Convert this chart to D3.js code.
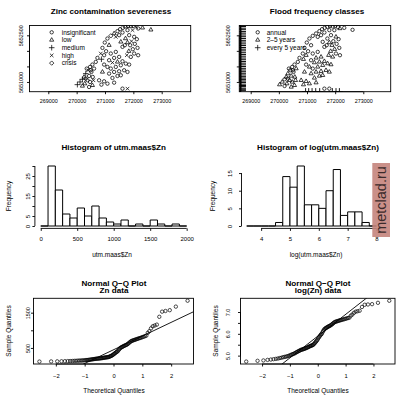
<!DOCTYPE html>
<html>
<head>
<meta charset="utf-8">
<script src="https://cdn.jsdelivr.net/npm/d3@7"></script>
<style>
  body { margin: 0; background: #fff; }
  svg text { font-family: "Liberation Sans", Arial, Helvetica, sans-serif; fill: #000; }
</style>
</head>
<body>
<svg id="chart" width="401" height="399"></svg>
<script>
// sample sites: [easting, northing, zinc class, flood class]
const sites = [
  [271322, 5652559, 1, 0], [271440, 5652634, 0, 0], [271534, 5652698, 0, 0], [271628, 5652741, 4, 0],
  [271723, 5652774, 1, 0], [271817, 5652806, 0, 0], [271911, 5652785, 1, 0], [272005, 5652806, 0, 0],
  [272099, 5652763, 3, 0], [272170, 5652720, 0, 1], [272323, 5652741, 1, 0], [272618, 5652677, 1, 0],
  [271793, 5652666, 0, 0], [271970, 5652666, 3, 0], [271617, 5652591, 0, 0], [271204, 5652483, 4, 0],
  [271381, 5652451, 3, 0], [271499, 5652505, 0, 0],
  [271852, 5652505, 0, 0], [272029, 5652451, 0, 1], [272123, 5652376, 0, 0], [271935, 5652311, 3, 0],
  [271793, 5652268, 1, 1], [271699, 5652182, 0, 0], [271887, 5652182, 0, 1], [272052, 5652225, 0, 0],
  [272147, 5652096, 0, 0], [271982, 5652053, 0, 1], [271840, 5651989, 1, 1], [272029, 5651914, 0, 0],
  [272170, 5651860, 0, 0], [271911, 5651806, 0, 1], [271770, 5651860, 3, 1], [271617, 5652129, 0, 0],
  [271558, 5652290, 1, 0], [271723, 5652397, 1, 0],
  [271086, 5652397, 0, 0], [270992, 5652268, 0, 0], [271145, 5652182, 1, 0], [270910, 5652096, 0, 0],
  [271039, 5651989, 0, 0], [270851, 5651914, 3, 0], [270969, 5651860, 0, 1], [270733, 5651774, 0, 0],
  [270874, 5651731, 2, 1], [270674, 5651645, 0, 0], [270556, 5651559, 0, 0], [270474, 5651484, 0, 0],
  [270615, 5651430, 0, 1], [270403, 5651376, 3, 0], [270521, 5651322, 0, 0], [270321, 5651269, 2, 1],
  [270439, 5651193, 0, 1], [270262, 5651161, 1, 1], [270568, 5651161, 0, 1], [270203, 5651086, 2, 0],
  [270380, 5651054, 0, 1], [270474, 5651000, 0, 1], [270120, 5651000, 2, 1], [270285, 5650946, 1, 1],
  [270026, 5650914, 2, 1], [270556, 5650892, 1, 1], [270203, 5650871, 1, 0], [270439, 5650839, 0, 1],
  [270321, 5651107, 0, 0], [270592, 5651054, 3, 1], [270497, 5651376, 0, 0], [270356, 5651430, 0, 0],
  [271204, 5651914, 0, 0], [271381, 5651967, 0, 0], [271322, 5651774, 0, 1], [271499, 5651806, 0, 1],
  [271145, 5651699, 0, 0], [271263, 5651623, 3, 1], [271440, 5651645, 1, 1], [271617, 5651666, 0, 1],
  [271734, 5651591, 0, 1], [271852, 5651559, 0, 1], [271558, 5651537, 0, 1], [271381, 5651484, 0, 1],
  [271204, 5651430, 0, 0], [270969, 5651559, 0, 0], [271086, 5651484, 0, 1], [271322, 5651322, 0, 1],
  [271499, 5651344, 0, 1], [271675, 5651376, 0, 1], [271793, 5651322, 0, 1], [270910, 5651322, 1, 1],
  [271145, 5651269, 0, 1], [271440, 5651193, 0, 1], [271558, 5651215, 0, 1], [271263, 5651129, 0, 1],
  [270969, 5651021, 0, 1], [270792, 5651054, 0, 1], [271086, 5650946, 0, 1], [270874, 5650914, 0, 1],
  [271322, 5650978, 0, 1], [271617, 5650785, 0, 0], [271793, 5650785, 3, 0]
];

// "every 5 years" sites that sit on the left and bottom edge of the flood map
const edgeLeftY = [
  5650720, 5650765, 5650800, 5650850, 5650885, 5650930, 5650985, 5651030, 5651075, 5651125,
  5651170, 5651225, 5651280, 5651330, 5651385, 5651440, 5651495, 5651550, 5651605, 5651660,
  5651715, 5651770, 5651830, 5651885, 5651940, 5652000, 5652055, 5652110, 5652170, 5652225,
  5652285, 5652340, 5652400, 5652455, 5652510, 5652570, 5652620, 5652680, 5652730, 5652785
];
const edgeBottomX = [270950, 271060, 271180, 271310, 271450, 271900, 272030, 272150];

const zincClasses = ['insignificant', 'low', 'medium', 'high', 'crisis'];
const floodClasses = ['annual', '2\u20135 years', 'every 5 years'];

// zinc concentrations, sorted
const zinc = [
  113, 117, 119, 122, 124, 126, 128, 130, 133, 135, 138, 140, 142, 144, 147,
  150, 154, 157, 160, 163, 167, 172, 176, 180, 184, 188, 192, 195, 197, 199,
  202, 205, 208, 211, 214, 218, 222, 226, 230, 233, 236, 239, 242,
  252, 260, 271, 282, 293, 306, 326, 342, 357, 375, 392, 401, 430, 458, 482,
  505, 514, 528, 541, 552, 563, 572, 584, 595, 612, 630, 652, 672, 691,
  703, 712, 722, 731, 742, 751, 762, 772, 781, 793, 806, 818, 832, 847,
  928, 975, 1055, 1115, 1136, 1161, 1383, 1529, 1548, 1571, 1672, 1839
];

const znBreaks = d3.range(0, 2001, 100);
const logBreaks = d3.range(3.5, 8.001, 0.25);

const coordXTicks = [269000, 270000, 271000, 272000, 273000];
const coordYTicks = [5651000, 5651500, 5652000, 5652500];
const coordYLabels = ['5651000', '', '', '5652500'];
const znXTicks = [0, 500, 1000, 1500, 2000];
const znYTicks = [0, 5, 10, 15, 20, 25, 30];
const znYLabels = ['0', '5', '', '15', '', '25', ''];
const logXTicks = [4, 5, 6, 7, 8];
const logYTicks = [0, 5, 10, 15];
const qqXTicks = [-2, -1, 0, 1, 2];
const qqXLabels = ['\u22122', '\u22121', '0', '1', '2'];
const znQTicks = [500, 1000, 1500];
const znQLabels = ['500', '', '1500'];
const logQTicks = [5, 5.5, 6, 6.5, 7];
const logQLabels = ['5.0', '', '6.0', '', '7.0'];

const svg = d3.select('#chart');
const defs = svg.append('defs');

function clip(id, x0, y0, x1, y1) {
  defs.append('clipPath').attr('id', id).append('rect')
    .attr('x', x0).attr('y', y0).attr('width', x1 - x0).attr('height', y1 - y0);
  return `url(#${id})`;
}

function frame(x0, y0, x1, y1) {
  svg.append('rect').attr('x', x0).attr('y', y0).attr('width', x1 - x0).attr('height', y1 - y0)
    .attr('fill', 'none').attr('stroke', '#000').attr('stroke-width', 0.9);
}

function tidy(g, fs) {
  g.attr('font-family', null).attr('font-size', null);
  g.select('.domain').remove();
  g.selectAll('.tick line').attr('stroke', '#000').attr('stroke-width', 0.9);
  g.selectAll('.tick text').attr('font-size', fs).attr('fill', '#000');
}

function xAxis(scale, y, ticks, labels, fs, off) {
  const g = svg.append('g').attr('transform', `translate(0,${y})`)
    .call(d3.axisBottom(scale).tickValues(ticks).tickSize(2.5).tickFormat((d, i) => labels[i]));
  tidy(g, fs);
  g.append('line').attr('x1', scale(ticks[0])).attr('x2', scale(ticks[ticks.length - 1]))
    .attr('stroke', '#000').attr('stroke-width', 0.9);
  g.selectAll('.tick text').attr('y', off).attr('dy', '0.36em');
}

function yAxis(scale, x, ticks, labels, fs, off) {
  const g = svg.append('g').attr('transform', `translate(${x},0)`)
    .call(d3.axisLeft(scale).tickValues(ticks).tickSize(2.5).tickFormat((d, i) => labels[i]));
  tidy(g, fs);
  g.append('line').attr('y1', scale(ticks[0])).attr('y2', scale(ticks[ticks.length - 1]))
    .attr('stroke', '#000').attr('stroke-width', 0.9);
  g.selectAll('.tick text').attr('x', null).attr('dy', '0.36em').attr('text-anchor', 'middle')
    .attr('transform', `translate(${-off},0) rotate(-90)`);
}

function title(lines, cx, y) {
  lines.forEach((t, i) => {
    svg.append('text').attr('x', cx).attr('y', y + i * 7.6).attr('text-anchor', 'middle')
      .attr('font-weight', 'bold').attr('font-size', 8.1).text(t);
  });
}

function xLabel(t, cx, y) {
  svg.append('text').attr('x', cx).attr('y', y).attr('dy', '0.36em').attr('text-anchor', 'middle')
    .attr('font-size', 6.5).text(t);
}

function yLabel(t, x, cy) {
  svg.append('text').attr('transform', `translate(${x},${cy}) rotate(-90)`).attr('dy', '0.36em')
    .attr('text-anchor', 'middle').attr('font-size', 6.5).text(t);
}

// R plotting characters 1, 2, 3, 4, 5
const pch = [d3.symbolCircle, d3.symbolTriangle2, d3.symbolPlus, d3.symbolX, d3.symbolDiamond2];
const pchSize = [9, 12, 12, 10, 12];
const sym = (k, s) => d3.symbol(pch[k], s || pchSize[k])();

function points(g, data) {
  g.selectAll('path.pt').data(data).join('path').attr('class', 'pt')
    .attr('transform', d => `translate(${d[0]},${d[1]})`)
    .attr('d', d => sym(d[2], d[3]))
    .attr('fill', 'none').attr('stroke', '#000').attr('stroke-width', d => d[4] || 0.75);
}

function legend(names, sx, tx, y0, step) {
  names.forEach((n, i) => {
    svg.append('path').attr('transform', `translate(${sx},${y0 + i * step})`).attr('d', sym(i))
      .attr('fill', 'none').attr('stroke', '#000').attr('stroke-width', 0.75);
    svg.append('text').attr('x', tx).attr('y', y0 + i * step).attr('dy', '0.36em')
      .attr('font-size', 6.5).text(n);
  });
}

const pad = ([a, b]) => [a - (b - a) * 0.04, b + (b - a) * 0.04];

// ---- top left: zinc contamination map
{
  const x = d3.scaleLinear().domain([268337, 274023]).range([29.5, 190.7]);
  const y = d3.scaleLinear().domain([5650687, 5652816]).range([91.7, 25.5]);
  const g = svg.append('g').attr('clip-path', clip('cA', 29.5, 25.5, 190.7, 91.7));
  points(g, sites.map(s => [x(s[0]), y(s[1]), s[2]]));
  frame(29.5, 25.5, 190.7, 91.7);
  xAxis(x, 91.7, coordXTicks, coordXTicks.map(String), 5.4, 9);
  yAxis(y, 29.5, coordYTicks, coordYLabels, 5.4, 8.8);
  legend(zincClasses, 51.7, 61.7, 32.3, 7.7);
  title(['Zinc contamination severeness'], 111, 13.9);
}

// ---- top right: flood frequency map
{
  const x = d3.scaleLinear().domain([268595, 273973]).range([239.3, 390.7]);
  const y = d3.scaleLinear().domain([5650687, 5652816]).range([91.7, 25.5]);
  const g = svg.append('g').attr('clip-path', clip('cB', 239.3, 25.5, 390.7, 91.7));
  const pts = sites.map(s => [x(s[0]), y(s[1]), s[3]]);
  edgeLeftY.forEach(v => pts.push([x(x.domain()[0]) + 1.3, y(v), 2, 40, 1]));
  edgeBottomX.forEach(v => pts.push([x(v), y(5650690), 2, 18, 0.9]));
  points(g, pts);
  frame(239.3, 25.5, 390.7, 91.7);
  xAxis(x, 91.7, coordXTicks, coordXTicks.map(String), 5.4, 9);
  yAxis(y, 239.3, coordYTicks, coordYLabels, 5.4, 11);
  legend(floodClasses, 257.7, 266.7, 32.3, 7.7);
  title(['Flood frequency classes'], 317, 13.9);
}

function histogram(values, breaks, x, y) {
  const bins = d3.bin().domain([breaks[0], breaks[breaks.length - 1]])
    .thresholds(breaks.slice(1, -1))(values);
  svg.append('g').selectAll('path').data(bins).join('path')
    .attr('d', b => `M${x(b.x0)},${y(0)}V${y(b.length)}H${x(b.x1)}V${y(0)}Z`)
    .attr('fill', '#fff').attr('stroke', '#000').attr('stroke-width', 1);
  return bins;
}

// ---- middle left: histogram of Zn
{
  const counts = d3.bin().domain([znBreaks[0], znBreaks.at(-1)]).thresholds(znBreaks.slice(1, -1))(zinc);
  const x = d3.scaleLinear().domain(pad([znBreaks[0], znBreaks.at(-1)])).range([34.9, 192.5]);
  const y = d3.scaleLinear().domain(pad([0, d3.max(counts, b => b.length)])).range([228.4, 163.6]);
  histogram(zinc, znBreaks, x, y);
  xAxis(x, 228.4, znXTicks, znXTicks.map(String), 6, 10.6);
  yAxis(y, 34.9, znYTicks, znYLabels, 6, 7);
  title(['Histogram of utm.maas$Zn'], 113.7, 150.2);
  xLabel('utm.maas$Zn', 112, 255);
  yLabel('Frequency', 8.5, 196);
}

// ---- middle right: histogram of log(Zn)
{
  const logZn = zinc.map(Math.log);
  const counts = d3.bin().domain([logBreaks[0], logBreaks.at(-1)]).thresholds(logBreaks.slice(1, -1))(logZn);
  const x = d3.scaleLinear().domain(pad([logBreaks[0], logBreaks.at(-1)])).range([241.5, 381.7]);
  const y = d3.scaleLinear().domain(pad([0, d3.max(counts, b => b.length)])).range([228.4, 163.6]);
  histogram(logZn, logBreaks, x, y);
  xAxis(x, 228.4, logXTicks, logXTicks.map(String), 6, 10.6);
  yAxis(y, 241.5, logYTicks, logYTicks.map(String), 6, 11.5);
  title(['Histogram of log(utm.maas$Zn)'], 318, 150.2);
  xLabel('log(utm.maas$Zn)', 316, 255);
  yLabel('Frequency', 212.7, 196);

  // watermark of the source page
  svg.append('rect').attr('x', 372.3).attr('y', 163).attr('width', 17.7).attr('height', 74)
    .attr('fill', '#c4847c').attr('opacity', 0.9);
  svg.append('text').attr('transform', 'translate(381.2,200) rotate(-90)').attr('dy', '0.36em')
    .attr('text-anchor', 'middle').attr('font-size', 14.5).style('fill', '#3b2b2b').text('metclad.ru');
}

// inverse standard normal (Acklam)
function qnorm(p) {
  const a = [-39.69683028665376, 220.9460984245205, -275.9285104469687, 138.3577518672690, -30.66479806614716, 2.506628277459239];
  const b = [-54.47609879822406, 161.5858368580409, -155.6989798598866, 66.80131188771972, -13.28068155288572];
  const c = [-0.007784894002430293, -0.3223964580411365, -2.400758277161838, -2.549732539343734, 4.374664141464968, 2.938163982698783];
  const d = [0.007784695709041462, 0.3224671290700398, 2.445134137142996, 3.754408661907416];
  const tail = q => (((((c[0] * q + c[1]) * q + c[2]) * q + c[3]) * q + c[4]) * q + c[5]) /
    ((((d[0] * q + d[1]) * q + d[2]) * q + d[3]) * q + 1);
  if (p < 0.02425) return tail(Math.sqrt(-2 * Math.log(p)));
  if (p > 1 - 0.02425) return -tail(Math.sqrt(-2 * Math.log(1 - p)));
  const q = p - 0.5, r = q * q;
  return (((((a[0] * r + a[1]) * r + a[2]) * r + a[3]) * r + a[4]) * r + a[5]) * q /
    (((((b[0] * r + b[1]) * r + b[2]) * r + b[3]) * r + b[4]) * r + 1);
}

function qqPlot(values, id, x0, x1, yTicks, yLabels, yOff, cx, sub) {
  const sorted = values.slice().sort(d3.ascending);
  const n = sorted.length;
  const theo = sorted.map((v, i) => qnorm((i + 0.5) / n));
  const x = d3.scaleLinear().domain(pad(d3.extent(theo))).range([x0, x1]);
  const y = d3.scaleLinear().domain(pad(d3.extent(sorted))).range([364, 298.3]);
  const g = svg.append('g').attr('clip-path', clip(id, x0, 298.3, x1, 364));
  g.selectAll('circle').data(sorted).join('circle')
    .attr('cx', (v, i) => x(theo[i])).attr('cy', v => y(v)).attr('r', 1.7)
    .attr('fill', 'none').attr('stroke', '#000').attr('stroke-width', 0.7);
  // qqline through the quartiles
  const yq = [d3.quantile(sorted, 0.25), d3.quantile(sorted, 0.75)];
  const xq = [qnorm(0.25), qnorm(0.75)];
  const slope = (yq[1] - yq[0]) / (xq[1] - xq[0]);
  const icpt = yq[0] - slope * xq[0];
  const [d0, d1] = x.domain();
  g.append('line').attr('x1', x(d0)).attr('y1', y(icpt + slope * d0))
    .attr('x2', x(d1)).attr('y2', y(icpt + slope * d1))
    .attr('stroke', '#000').attr('stroke-width', 0.9);
  frame(x0, 298.3, x1, 364);
  xAxis(x, 364, qqXTicks, qqXLabels, 5.8, 12);
  yAxis(y, x0, yTicks, yLabels, 5.5, yOff);
  title(['Normal Q\u2212Q Plot', sub], cx, 285.8);
  xLabel('Theoretical Quantiles', cx, 391);
  yLabel('Sample Quantiles', x0 - 25, 331);
}

qqPlot(zinc, 'cE', 33.5, 193.5, znQTicks, znQLabels, 5.5, 114, 'Zn data');
qqPlot(zinc.map(Math.log), 'cF', 240.5, 395, logQTicks, logQLabels, 12, 318, 'log(Zn) data');
</script>
</body>
</html>
